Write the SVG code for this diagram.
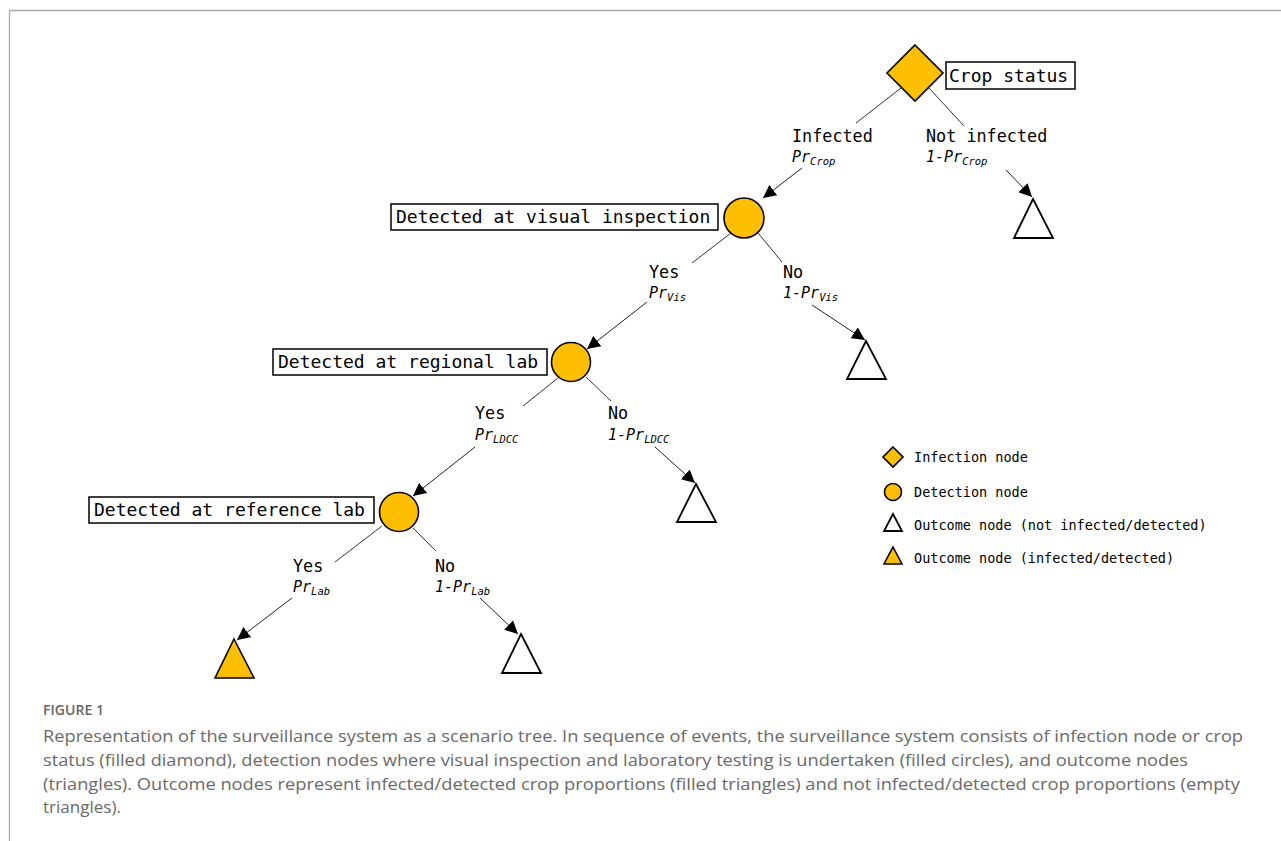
<svg xmlns="http://www.w3.org/2000/svg" width="1281" height="841" viewBox="0 0 1281 841">
<defs>
<marker id="arrL" viewBox="0 0 10 10" refX="10" refY="5" markerWidth="13" markerHeight="13" markerUnits="userSpaceOnUse" orient="auto">
<path d="M0,0 L10,5 L0,10 z" fill="#000"/>
</marker>
</defs>
<style>
.fr{stroke:#aaa;stroke-width:1.3;fill:none}
.fill{fill:#FDBF00;stroke:#000;stroke-width:1.6}
.empty{fill:#fff;stroke:#000;stroke-width:1.8}
.box{fill:#fff;stroke:#000;stroke-width:1.5}
.ln{stroke:#333;stroke-width:1;fill:none}
.ar{stroke:#222;stroke-width:1;fill:none;marker-end:url(#arrL)}
.bl{font-family:"DejaVu Sans Mono",monospace;font-size:18px;fill:#000}
.lb{font-family:"DejaVu Sans Mono",monospace;font-size:16.8px;fill:#000}
.pr{font-family:"DejaVu Sans Mono",monospace;font-style:italic;font-size:15px;fill:#000}
.sub{font-size:10.5px}
.lg{font-family:"DejaVu Sans Mono",monospace;font-size:13.5px;fill:#000}
.fig{font-family:"Open Sans","Noto Sans",sans-serif;font-size:14px;font-weight:600;fill:#666}
.cap{font-family:"Open Sans","Noto Sans",sans-serif;font-size:17px;fill:#6a6a6a}
</style>
<rect width="1281" height="841" fill="#fff"/>
<path class="fr" d="M9.5,841 V10.5 H1281"/>

<g id="connectors">
<line class="ln" x1="901" y1="88" x2="856" y2="123"/>
<line class="ln" x1="929" y1="88" x2="964" y2="126"/>
<line class="ar" x1="802" y1="168" x2="763" y2="198"/>
<line class="ar" x1="1006" y1="170" x2="1032" y2="197"/>
<line class="ln" x1="731" y1="233" x2="692" y2="263"/>
<line class="ln" x1="758" y1="233" x2="782" y2="262"/>
<line class="ar" x1="647" y1="302" x2="587" y2="349"/>
<line class="ar" x1="812" y1="305" x2="865" y2="340"/>
<line class="ln" x1="558" y1="378" x2="523" y2="406"/>
<line class="ln" x1="586" y1="377" x2="611" y2="401"/>
<line class="ar" x1="475" y1="447" x2="413" y2="496"/>
<line class="ar" x1="655" y1="447" x2="695" y2="483"/>
<line class="ln" x1="382" y1="526" x2="335" y2="562"/>
<line class="ln" x1="413" y1="528" x2="436" y2="551"/>
<line class="ar" x1="292" y1="598" x2="237" y2="640"/>
<line class="ar" x1="480" y1="598" x2="518" y2="634"/>
</g>

<g id="crop-status">
<polygon class="fill" points="915,45 943,73 915,101 887,73"/>
<rect class="box" x="946" y="62" width="129" height="27"/>
<text class="bl" x="949" y="82">Crop status</text>
</g>

<g id="infected-label">
<text class="lb" x="792" y="142">Infected</text>
<text class="pr" x="792" y="162">Pr<tspan class="sub" dy="3">Crop</tspan></text>
</g>
<g id="not-infected-label">
<text class="lb" x="926" y="142">Not infected</text>
<text class="pr" x="926" y="162">1-Pr<tspan class="sub" dy="3">Crop</tspan></text>
</g>
<g id="out-not-infected">
<polygon class="empty" points="1033,199 1053,238 1014,238"/>
</g>

<g id="visual-inspection">
<circle class="fill" cx="744" cy="218" r="20"/>
<rect class="box" x="391" y="204" width="327" height="26"/>
<text class="bl" x="396" y="223">Detected at visual inspection</text>
</g>
<g id="vis-yes-label">
<text class="lb" x="649" y="278">Yes</text>
<text class="pr" x="649" y="298">Pr<tspan class="sub" dy="3">Vis</tspan></text>
</g>
<g id="vis-no-label">
<text class="lb" x="783" y="278">No</text>
<text class="pr" x="783" y="298">1-Pr<tspan class="sub" dy="3">Vis</tspan></text>
</g>
<g id="out-vis-no">
<polygon class="empty" points="866,341 886,379 847,379"/>
</g>

<g id="regional-lab">
<circle class="fill" cx="571" cy="362" r="19.5"/>
<rect class="box" x="273" y="349" width="274" height="26"/>
<text class="bl" x="278" y="368">Detected at regional lab</text>
</g>
<g id="ldcc-yes-label">
<text class="lb" x="475" y="419">Yes</text>
<text class="pr" x="475" y="440">Pr<tspan class="sub" dy="3">LDCC</tspan></text>
</g>
<g id="ldcc-no-label">
<text class="lb" x="608" y="419">No</text>
<text class="pr" x="608" y="440">1-Pr<tspan class="sub" dy="3">LDCC</tspan></text>
</g>
<g id="out-ldcc-no">
<polygon class="empty" points="696,484 716,522 677,522"/>
</g>

<g id="reference-lab">
<circle class="fill" cx="399" cy="512" r="19.5"/>
<rect class="box" x="89" y="497" width="285" height="26"/>
<text class="bl" x="94" y="516">Detected at reference lab</text>
</g>
<g id="lab-yes-label">
<text class="lb" x="293" y="572">Yes</text>
<text class="pr" x="293" y="592">Pr<tspan class="sub" dy="3">Lab</tspan></text>
</g>
<g id="lab-no-label">
<text class="lb" x="435" y="572">No</text>
<text class="pr" x="435" y="592">1-Pr<tspan class="sub" dy="3">Lab</tspan></text>
</g>
<g id="out-lab-yes">
<polygon class="fill" points="234,639 254,678 215,678"/>
</g>
<g id="out-lab-no">
<polygon class="empty" points="521,634 541,673 502,673"/>
</g>

<g id="legend">
<polygon class="fill" points="893,447 903,457 893,467 883,457" stroke-width="1.3"/>
<text class="lg" x="914" y="462">Infection node</text>
<circle class="fill" cx="893" cy="492" r="8.5" stroke-width="1.3"/>
<text class="lg" x="914" y="497">Detection node</text>
<polygon class="empty" points="893,514 902,531 884,531" stroke-width="1.3"/>
<text class="lg" x="914" y="530">Outcome node (not infected/detected)</text>
<polygon class="fill" points="893,547 902,564 884,564" stroke-width="1.3"/>
<text class="lg" x="914" y="563">Outcome node (infected/detected)</text>
</g>

<g id="caption">
<text class="fig" x="43" y="715" textLength="61" lengthAdjust="spacingAndGlyphs">FIGURE 1</text>
<text class="cap" x="43" y="742" textLength="1200" lengthAdjust="spacingAndGlyphs">Representation of the surveillance system as a scenario tree. In sequence of events, the surveillance system consists of infection node or crop</text>
<text class="cap" x="43" y="766" textLength="1145" lengthAdjust="spacingAndGlyphs">status (filled diamond), detection nodes where visual inspection and laboratory testing is undertaken (filled circles), and outcome nodes</text>
<text class="cap" x="43" y="790" textLength="1197" lengthAdjust="spacingAndGlyphs">(triangles). Outcome nodes represent infected/detected crop proportions (filled triangles) and not infected/detected crop proportions (empty</text>
<text class="cap" x="43" y="813" textLength="78" lengthAdjust="spacingAndGlyphs">triangles).</text>
</g>
</svg>
